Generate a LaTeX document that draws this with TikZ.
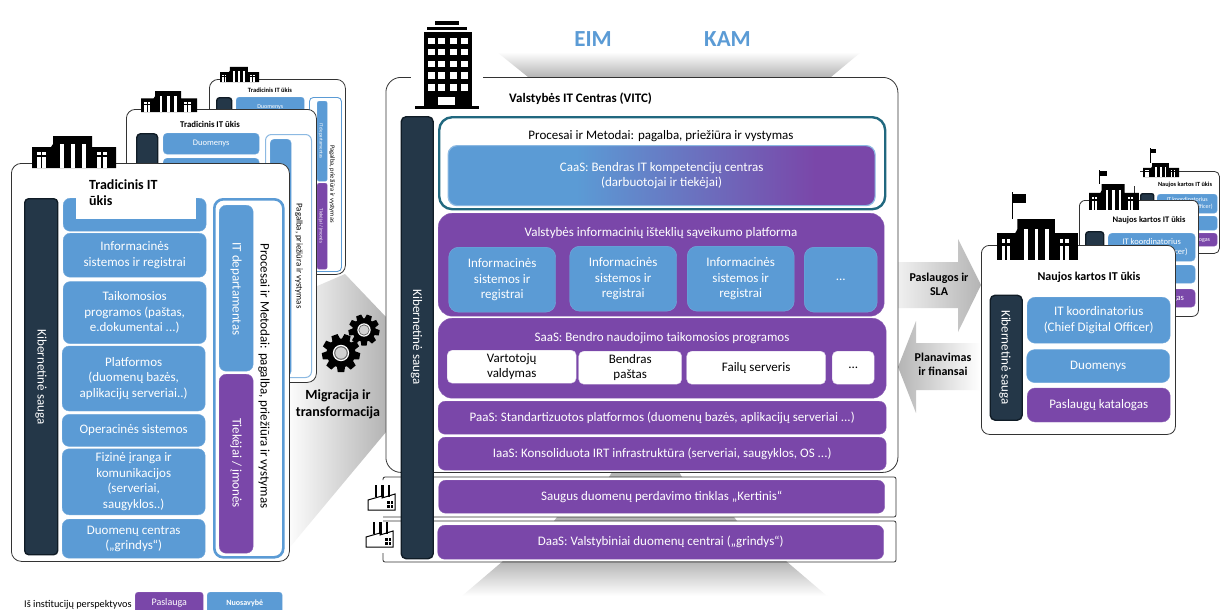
\documentclass[tikz,border=0pt]{standalone}
\usepackage{fontspec}
\setmainfont{Carlito}
\usetikzlibrary{positioning}

\definecolor{blueBox}{HTML}{5B9BD5}
\definecolor{purpleBox}{HTML}{7A47A9}
\definecolor{darkBox}{HTML}{243748}
\definecolor{darkEdge}{HTML}{101C26}
\definecolor{tealEdge}{HTML}{21687F}
\definecolor{cardEdge}{HTML}{333333}
\definecolor{fadeGray}{HTML}{B4B4B4}
\definecolor{titleBlue}{HTML}{5B9BD5}

\pgfdeclarehorizontalshading{caasShade}{100bp}{color(0bp)=(blueBox); color(40bp)=(blueBox); color(68bp)=(purpleBox); color(100bp)=(purpleBox)}

\newcommand{\fsz}[1]{\fontsize{#1}{#1}\selectfont\baselineskip=1.19\baselineskip}

\newcommand{\palaceIcon}[4]{%
\begin{scope}[shift={(#1,#2)},xscale=#3,yscale=#4]
\fill[black] (0,11) -- (19,11) -- (21,8) -- (21,0) -- (60,0) -- (60,11) -- (84,11) -- (84,32) -- (0,32) -- cycle;
\foreach \xx in {28,39,50} \fill[white] (\xx,8) rectangle ++(4,24);
\foreach \xx in {5,10,65,71} {\fill[white] (\xx,16) rectangle ++(3.5,3); \fill[white] (\xx,21) rectangle ++(3.5,11);}
\end{scope}}

\newcommand{\flagIcon}[5]{%
\draw[black,line width=0.7] (#1,#2) -- (#1,#3);
\fill[black] (#1,#2+0.2*#5) rectangle ++(#4,#5);}

\newcommand{\gearIcon}[3]{%
\begin{scope}[shift={(#1,#2)},scale=#3]
\fill[black] (0,0) circle (0.76);
\foreach \aa in {0,40,...,320} \fill[black,rotate=\aa] (-0.25,0.5) -- (-0.17,1) -- (0.17,1) -- (0.25,0.5) -- cycle;
\fill[white] (0,0) circle (0.43);
\fill[black!60] (0,0) circle (0.36);
\fill[black!18] (0,0) circle (0.3);
\end{scope}}

\newcommand{\factoryIcon}[2]{%
\begin{scope}[shift={(#1,#2)}]
\draw[black,fill=white,line width=1] (0,25) -- (0,15) -- (14,11) -- (14,13) -- (27,9) -- (27,25) -- cycle;
\foreach \xx in {8,14.5,21} \draw[black,line width=2.2] (\xx,0) -- (\xx,12);
\foreach \xx in {19,22.5} \foreach \yy in {16,20} \fill[black] (\xx,\yy) rectangle ++(2.6,2.6);
\end{scope}}

\begin{document}
\begin{tikzpicture}[x=1pt,y=-1pt]

\tikzstyle{box} = [rounded corners=7, anchor=north west, inner sep=1pt, align=center, text=white, font=\fsz{13}]
\tikzstyle{blueBlock} = [box, fill=blueBox, draw=blueBox!85!white, line width=0.4]
\tikzstyle{purpleBlock} = [box, fill=purpleBox, draw=purpleBox!85!white, line width=0.4]
\tikzstyle{whiteBlock} = [box, fill=white, draw=purpleBox!30!white, line width=0.4, text=black]
\tikzstyle{darkBlock} = [box, fill=darkBox, draw=darkEdge, line width=1.4]
\tikzstyle{card} = [box, fill=white, draw=cardEdge, line width=0.8, rounded corners=9]
\tikzstyle{outlineBlock} = [box, fill=white, draw=blueBox, rounded corners=9]
\tikzstyle{label} = [inner sep=0pt, align=center, font=\fsz{13}]
\tikzstyle{sideLabel} = [label, rotate=-90]
\tikzstyle{heading} = [label, font=\bfseries\fsz{13}]

\useasboundingbox (0,0) rectangle (1220,610);
\fill[white] (0,0) rectangle (1220,610);

% gray fades
\shade[left color=white, right color=fadeGray] (285,300) -- (345,274) -- (386,317) -- (386,432) -- (290,547) -- cycle;
\shade[top color=white, bottom color=fadeGray] (497,52) -- (861,52) -- (831,77) -- (528,77) -- cycle;
\shade[top color=fadeGray, bottom color=white] (503,561) -- (786,561) -- (827,596) -- (462,596) -- cycle;
\fill[fadeGray] (612,472) -- (679,472) -- (682,477) -- (609,477) -- cycle;
\fill[fadeGray] (557,517) -- (734,517) -- (737,521) -- (554,521) -- cycle;
\shade[left color=white!94!black, right color=fadeGray] (898,262) -- (958,262) -- (958,239) -- (981,285) -- (958,332) -- (958,308) -- (898,308) -- cycle;
\shade[left color=fadeGray, right color=white] (980,343) -- (916,343) -- (916,321) -- (898,367) -- (916,413) -- (916,390) -- (980,390) -- cycle;

% traditional IT, third card
\node[card, minimum width=136, minimum height=195] (tradC) at (209,79) {};
\palaceIcon{220}{67}{0.465}{0.47}
\node[heading, font=\bfseries\fsz{6.5}] (tradCTitle) at (270,90) {Tradicinis IT ūkis};
\node[darkBlock, rounded corners=3, minimum width=15, minimum height=40] (tradCCyber) at (216,97) {};
\node[blueBlock, rounded corners=3, minimum width=68, minimum height=20, font=\fsz{6}] (tradCData) at (236,97) {Duomenys};
\node[outlineBlock, line width=0.9, minimum width=32, minimum height=174, rounded corners=4] (tradCBox) at (309,97) {};
\node[blueBlock, rounded corners=2, minimum width=10, minimum height=80] (tradCDept) at (317,101) {};
\node[purpleBlock, rounded corners=2, minimum width=10, minimum height=86] (tradCSup) at (317,183) {};
\node[sideLabel, text=white, font=\fsz{5}] (tradCDeptText) at (321,141) {IT departamentas};
\node[sideLabel, text=white, font=\fsz{5}] (tradCSupText) at (321,226) {Tiekėjai / įmonės};
\node[sideLabel, font=\fsz{6.5}] (tradCProc) at (332,184) {Pagalba, priežiūra ir vystymas};

% traditional IT, second card
\node[card, minimum width=190, minimum height=273] (tradB) at (126,109) {};
\palaceIcon{141}{91}{0.667}{0.66}
\node[heading, font=\bfseries\fsz{8.8}] (tradBTitle) at (210,124) {Tradicinis IT ūkis};
\node[darkBlock, rounded corners=4, minimum width=21, minimum height=60] (tradBCyber) at (136,133) {};
\node[blueBlock, rounded corners=4, minimum width=96, minimum height=21, font=\fsz{8.5}] (tradBData) at (163,133) {Duomenys};
\node[blueBlock, rounded corners=4, minimum width=96, minimum height=30] (tradBInfo) at (163,158) {};
\node[outlineBlock, line width=1, draw=blueBox!70!white, minimum width=46, minimum height=243, rounded corners=6] (tradBBox) at (265,134) {};
\node[blueBlock, rounded corners=4, minimum width=21, minimum height=236] (tradBDept) at (270,139) {};
\node[sideLabel, font=\fsz{8.8}] (tradBProc) at (299,256) {Pagalba, priežiūra ir vystymas};

% traditional IT, front card
\node[card, minimum width=278, minimum height=398, rounded corners=10] (tradA) at (11,163) {};
\palaceIcon{32}{136}{1}{1}
\node[darkBlock, rounded corners=4, minimum width=33, minimum height=356] (tradACyber) at (24,198) {};
\node[sideLabel, text=white] (tradACyberText) at (41,377) {Kibernetinė sauga};
\node[blueBlock, minimum width=143, minimum height=33] (tradAData) at (63,198) {};
\node[fill=white, anchor=north west, minimum width=120, minimum height=41, inner sep=0pt] (tradATitleBack) at (76,178) {};
\node[heading, anchor=north west, align=left, font=\bfseries\fsz{14}] (tradATitle) at (89,179) {Tradicinis IT\\ ūkis};
\node[blueBlock, minimum width=143, minimum height=44] (tradAInfo) at (63,233) {Informacinės\\sistemos ir registrai};
\node[blueBlock, minimum width=143, minimum height=62, below=4pt of tradAInfo] (tradAApps) {Taikomosios\\programos (paštas,\\e.dokumentai ...)};
\node[blueBlock, minimum width=143, minimum height=65, below=2pt of tradAApps, xshift=-1pt] (tradAPlat) {Platformos\\(duomenų bazės,\\aplikacijų serveriai..)};
\node[blueBlock, minimum width=143, minimum height=32, below=3pt of tradAPlat] (tradAOs) {Operacinės sistemos};
\node[blueBlock, minimum width=143, minimum height=66, below=2pt of tradAOs] (tradAHard) {Fizinė įranga ir\\komunikacijos\\(serveriai,\\saugyklos..)};
\node[blueBlock, minimum width=143, minimum height=39, below=4pt of tradAHard] (tradACentre) {Duomenų centras\\(„grindys“)};
\node[outlineBlock, line width=2.6, minimum width=69, minimum height=358] (tradABox) at (213,198) {};
\node[blueBlock, minimum width=34, minimum height=166] (tradADept) at (219,205) {};
\node[purpleBlock, minimum width=34, minimum height=179] (tradASup) at (219,374) {};
\node[sideLabel, text=white] (tradADeptText) at (236,289) {IT departamentas};
\node[sideLabel, text=white] (tradASupText) at (236,463) {Tiekėjai / įmonės};
\node[sideLabel] (tradAProc) at (264,376) {Procesai ir Metodai: pagalba, priežiūra ir vystymas};

% migration
\gearIcon{364}{330}{15.5}
\gearIcon{341}{353}{19}
\node[heading, font=\bfseries\fsz{14}] (migration) at (338,404) {Migracija ir\\transformacija};

% frames under the centre
\draw[cardEdge, line width=0.8, rounded corners=2] (383,480) -- (383,477) -- (896,477) -- (896,517) -- (383,517);
\draw[cardEdge, line width=0.8, rounded corners=2] (383,521) -- (896,521) -- (896,562) -- (383,562) -- (383,553);
\factoryIcon{368}{485}
\factoryIcon{366}{522}

% state IT centre
\node[card, minimum width=512, minimum height=395, rounded corners=15] (vitc) at (385.5,77) {};
\fill[white] (411,70) rectangle (483,114);
\node[heading, anchor=west] (vitcTitle) at (509,99) {Valstybės IT Centras (VITC)};
\fill[black] (435,21) rectangle (459,25);
\fill[black] (427,27) rectangle (467,30);
\fill[black] (424,32) rectangle (472,106);
\fill[black] (415,106) rectangle (478.5,108.5);
\foreach \xx in {428,438,450,460.5} \foreach \yy in {38,49,61,72,84} \fill[white] (\xx,\yy) rectangle ++(7,6.5);
\fill[white] (438,97) rectangle (455,105);
\node[label, text=titleBlue, font=\bfseries\fsz{23}] (eim) at (593,39) {EIM};
\node[label, text=titleBlue, font=\bfseries\fsz{23}] (kam) at (727.5,39) {KAM};

\node[box, draw=tealEdge, line width=2.4, fill=white, minimum width=446, minimum height=92, rounded corners=13] (process) at (438,116) {};
\node[label] (processText) at (661,136) {Procesai ir Metodai: pagalba, priežiūra ir vystymas};
\node[box, shade, shading=caasShade, draw=blueBox!70!white, line width=1.2, minimum width=427, minimum height=60, rounded corners=9] (caas) at (447.5,145) {CaaS: Bendras IT kompetencijų centras\\(darbuotojai ir tiekėjai)};

\node[purpleBlock, minimum width=446, minimum height=103, rounded corners=14] (platform) at (438,213) {};
\node[label, text=white] (platformText) at (661,233) {Valstybės informacinių išteklių sąveikumo platforma};
\node[blueBlock, minimum width=107, minimum height=65, rounded corners=10] (infoOne) at (448.5,247) {Informacinės\\sistemos ir\\registrai};
\node[blueBlock, minimum width=107, minimum height=65, rounded corners=10] (infoTwo) at (569.5,246) {Informacinės\\sistemos ir\\registrai};
\node[blueBlock, minimum width=107, minimum height=65, rounded corners=10] (infoThree) at (687,246) {Informacinės\\sistemos ir\\registrai};
\node[blueBlock, minimum width=73, minimum height=65, rounded corners=10] (infoMore) at (804,247) {...};

\node[purpleBlock, minimum width=448, minimum height=80, rounded corners=14] (saas) at (438,318) {};
\node[label, text=white] (saasText) at (662,338) {SaaS: Bendro naudojimo taikomosios programos};
\node[whiteBlock, minimum width=129, minimum height=33, rounded corners=5] (users) at (447,350) {Vartotojų\\valdymas};
\node[whiteBlock, minimum width=103, minimum height=33, rounded corners=5] (mail) at (578.5,351) {Bendras\\paštas};
\node[whiteBlock, minimum width=139, minimum height=33, rounded corners=5] (files) at (686.5,351) {Failų serveris};
\node[whiteBlock, minimum width=42, minimum height=33, rounded corners=5] (saasMore) at (832,351) {...};

\node[purpleBlock, minimum width=448, minimum height=33] (paas) at (438,401) {PaaS: Standartizuotos platformos (duomenų bazės,  aplikacijų serveriai ...)};
\node[purpleBlock, minimum width=448, minimum height=33] (iaas) at (438,437) {IaaS: Konsoliduota IRT infrastruktūra (serveriai, saugyklos, OS ...)};
\node[purpleBlock, minimum width=446, minimum height=33] (kertinis) at (438.5,480) {Saugus duomenų perdavimo tinklas „Kertinis“};
\node[purpleBlock, minimum width=446, minimum height=34] (daas) at (437.5,525) {DaaS: Valstybiniai duomenų centrai („grindys“)};

\node[darkBlock, rounded corners=5, minimum width=32, minimum height=442] (vitcCyber) at (400.5,116) {};
\node[sideLabel, text=white] (vitcCyberText) at (416.5,337) {Kibernetinė sauga};

\node[heading, font=\bfseries\fsz{12}] (slaText) at (939,284.5) {Paslaugos ir\\SLA};
\node[heading, font=\bfseries\fsz{12}] (planText) at (943,364) {Planavimas\\ir finansai};

% next generation IT, third card
\node[card, minimum width=85, minimum height=82, rounded corners=5] (nextC) at (1134,171) {};
\fill[white] (1131,165) rectangle (1140,186);
\palaceIcon{1143}{163}{0.43}{0.44}
\flagIcon{1150}{148}{163}{6}{4}
\node[heading, font=\bfseries\fsz{6.3}] (nextCTitle) at (1185,185) {Naujos kartos IT ūkis};
\node[darkBlock, rounded corners=2, minimum width=13, minimum height=20] (nextCCyber) at (1140,193) {};
\node[blueBlock, rounded corners=3, minimum width=60, minimum height=19, font=\fsz{6}] (nextCCoord) at (1157,194) {IT koordinatorius\\(Chief Digital Officer)};
\node[blueBlock, rounded corners=3, minimum width=60, minimum height=14] (nextCData) at (1157,216) {};
\node[purpleBlock, rounded corners=3, minimum width=60, minimum height=13, font=\fsz{6}] (nextCCat) at (1157,233) {Paslaugų katalogas};

% next generation IT, second card
\node[card, minimum width=119, minimum height=116, rounded corners=6] (nextB) at (1079,200) {};
\palaceIcon{1089}{184}{0.595}{0.81}
\flagIcon{1099}{170}{184}{8}{5}
\node[heading, font=\bfseries\fsz{8.5}] (nextBTitle) at (1149,220) {Naujos kartos IT ūkis};
\node[darkBlock, rounded corners=3, minimum width=18, minimum height=30] (nextBCyber) at (1085,231) {};
\node[blueBlock, rounded corners=4, minimum width=87, minimum height=28, font=\fsz{8.5}] (nextBCoord) at (1108,233) {IT koordinatorius\\(Chief Digital Officer)};
\node[blueBlock, rounded corners=4, minimum width=87, minimum height=18] (nextBData) at (1108,265) {};
\node[purpleBlock, rounded corners=4, minimum width=87, minimum height=18, font=\fsz{8.5}] (nextBCat) at (1108,289) {Paslaugų katalogas};

% next generation IT, front card
\node[card, minimum width=194, minimum height=189, rounded corners=8] (nextA) at (981,245) {};
\palaceIcon{997}{219}{0.964}{1.28}
\flagIcon{1012}{192}{219}{14}{9}
\node[heading, font=\bfseries\fsz{12}] (nextATitle) at (1089,277) {Naujos kartos IT ūkis};
\node[darkBlock, rounded corners=5, minimum width=32, minimum height=125] (nextACyber) at (989.5,294.5) {};
\node[sideLabel, text=white] (nextACyberText) at (1005,357.5) {Kibernetinė sauga};
\node[blueBlock, rounded corners=8, minimum width=143, minimum height=46] (nextACoord) at (1027,297) {IT koordinatorius\\(Chief Digital Officer)};
\node[blueBlock, rounded corners=8, minimum width=143, minimum height=33, below=6pt of nextACoord, xshift=-0.5pt] (nextAData) {Duomenys};
\node[purpleBlock, rounded corners=8, minimum width=143, minimum height=34, below=5pt of nextAData, xshift=0.5pt] (nextACat) {Paslaugų katalogas};

% legend
\node[label, anchor=west, font=\fsz{10.3}] (legendText) at (24,605) {Iš institucijų perspektyvos};
\node[purpleBlock, rounded corners=3, minimum width=68, minimum height=22, font=\fsz{10}] (legendService) at (135,592) {Paslauga};
\node[blueBlock, rounded corners=3, minimum width=75, minimum height=22, font=\bfseries\fsz{8}] (legendOwn) at (207,592) {Nuosavybė};

\end{tikzpicture}
\end{document}
